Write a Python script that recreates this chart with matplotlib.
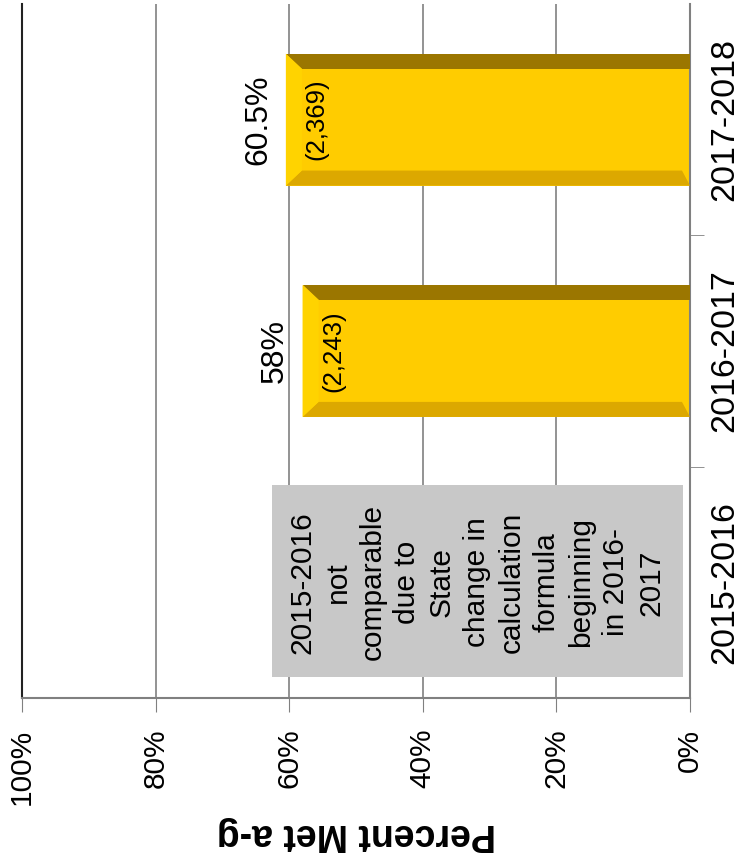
import numpy as np
import matplotlib.pyplot as plt
from matplotlib.patches import Polygon, Rectangle

plt.rcParams['font.family'] = ['Liberation Sans', 'DejaVu Sans']

years = ['2015-2016', '2016-2017', '2017-2018']
pct_met = [np.nan, 58.0, 60.5]
pct_labels = ['', '58%', '60.5%']
counts = ['', '(2,243)', '(2,369)']
note = ('2015-2016\nnot\ncomparable\ndue to\nState\nchange in\ncalculation\n'
        'formula\nbeginning\nin 2016-\n2017')

fig = plt.figure(figsize=(7.41, 8.61), dpi=100)
ax = fig.add_axes([22/741, 1 - 698/861, (690 - 22)/741, (698 - 4)/861])

pos = np.arange(len(years))
h = 0.57
ax.barh(pos, pct_met, height=h, color='#FFCC00', zorder=2)

# bevelled edges on each bar
dx, dy = 2.4, 0.065
for c, v in zip(pos, pct_met):
    if np.isnan(v):
        continue
    top, bot = c + h/2, c - h/2
    ax.add_patch(Polygon([(v, top), (0, top), (0, top - dy), (v - dx, top - dy)],
                         closed=True, color='#9B7600', lw=0, zorder=3))
    ax.add_patch(Polygon([(v, bot), (0, bot), (dx*0.5, bot + dy), (v - dx, bot + dy)],
                         closed=True, color='#DCA800', lw=0, zorder=3))
    ax.add_patch(Polygon([(v, top), (v - dx, top - dy), (v - dx, bot + dy), (v, bot)],
                         closed=True, color='#FFD300', lw=0, zorder=3))

for c, v, lab, n in zip(pos, pct_met, pct_labels, counts):
    if np.isnan(v):
        continue
    ax.annotate(lab, (v, c), textcoords='offset points', xytext=(-20, 0),
                rotation=90, ha='center', va='center', fontsize=23)
    ax.annotate(n, (v, c), textcoords='offset points', xytext=(22, 0),
                rotation=90, ha='center', va='center', fontsize=18.5)

# note box for the non-comparable year
ax.add_patch(Rectangle((62.6, -0.41), 1.0 - 62.6, 0.83, fc='#C8C8C8', ec='none', zorder=3))
ax.text(31.9, 0, note, rotation=90, ha='center', va='center', fontsize=21.5,
        linespacing=1.31, multialignment='center', zorder=4)

ax.set_xlim(100, 0)
ax.set_ylim(-0.5, 2.5)
ax.set_xticks(np.arange(0, 101, 20))
ax.set_xticklabels([f'{t}%' for t in range(0, 101, 20)], rotation=90, fontsize=21.5)
ax.tick_params(axis='x', length=10, color='#808080', pad=12)
ax.xaxis.grid(True, color='#808080', lw=1.2, zorder=0)
ax.set_axisbelow(True)

ax.yaxis.tick_right()
ax.set_yticks(pos)
ax.set_yticklabels(years, rotation=90, va='center', fontsize=24.5)
ax.tick_params(axis='y', which='major', length=0, pad=14)
ax.set_yticks([0.5, 1.5], minor=True)
ax.tick_params(axis='y', which='minor', length=10, color='#808080')

ax.spines['top'].set_visible(False)
ax.spines['left'].set_color('#222222')
ax.spines['right'].set_color('#808080')
ax.spines['bottom'].set_color('#808080')
for s in ['left', 'right', 'bottom']:
    ax.spines[s].set_linewidth(1.5)

ax.set_xlabel('Percent Met a-g', rotation=180, fontsize=27, fontweight='bold', labelpad=8)

fig.savefig('out.png', dpi=100)
